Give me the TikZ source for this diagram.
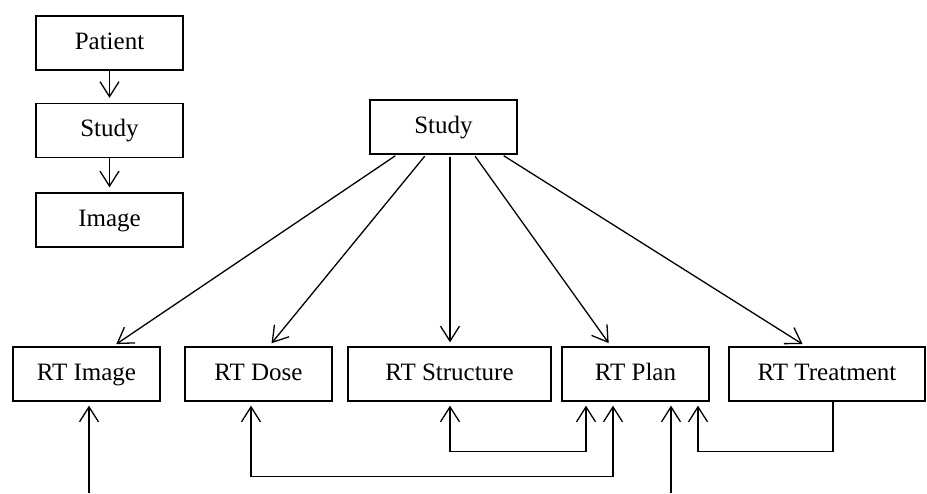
\documentclass[tikz,border=0pt]{standalone}
\usepackage{fontspec}
\setmainfont{Liberation Serif}
\usetikzlibrary{arrows.meta,calc}
\tikzset{
  entity/.style={draw, line width=0.65pt, minimum height=27pt, minimum width=73.5pt,
    inner sep=0pt, text height=8.5pt, text depth=2.5pt, font=\fontsize{12.5}{14}\selectfont},
  link/.style={line width=0.65pt, -{Straight Barb[length=7.5pt,width=9.5pt,line width=0.65pt]}},
  twoway/.style={line width=0.65pt, {Straight Barb[length=7.5pt,width=9.5pt,line width=0.65pt]}-{Straight Barb[length=7.5pt,width=9.5pt,line width=0.65pt]}}
}
\begin{document}
\begin{tikzpicture}[x=0.5pt,y=-0.5pt]
\useasboundingbox (0,0) rectangle (927,493);
% legend hierarchy
\node[entity] (patient) at (109.5,43) {Patient};
\node[entity] (study1) at (109.5,130.5) {Study};
\node[entity] (image) at (109.5,220) {Image};
\draw[link, shorten >=2.5pt] (patient) -- (study1);
\draw[link, shorten >=2.5pt] (study1) -- (image);
% study and RT objects
\node[entity] (study) at (443.5,127) {Study};
\node[entity] (rtimage) at (86.5,374) {RT Image};
\node[entity] (rtdose) at (258.5,374) {RT Dose};
\node[entity, minimum width=101.5pt] (rtstruct) at (449.5,374) {RT Structure};
\node[entity] (rtplan) at (635.5,374) {RT Plan};
\node[entity, minimum width=98pt] (rttreat) at (827,374) {RT Treatment};
\draw[link, shorten <=1pt, shorten >=2pt] ($(study.south)+(-46.5,0)$) -- ($(rtimage.north)+(26.5,0)$);
\draw[link, shorten <=1pt, shorten >=2pt] ($(study.south)+(-17.5,0)$) -- ($(rtdose.north)+(10.5,0)$);
\draw[link, shorten <=1pt, shorten >=2pt] ($(study.south)+(6.5,0)$) -- ($(rtstruct.north)+(0.5,0)$);
\draw[link, shorten <=1pt, shorten >=2pt] ($(study.south)+(30.5,0)$) -- ($(rtplan.north)+(-24.5,0)$);
\draw[link, shorten <=1pt, shorten >=2pt] ($(study.south)+(58.5,0)$) -- ($(rttreat.north)+(-21,0)$);
% references between RT objects
\coordinate (imgin) at (89,493);
\coordinate (planin) at (671,493);
\draw[link, shorten >=2pt] (imgin) -- (imgin |- rtimage.south);
\draw[link, shorten >=2pt] (planin) -- (planin |- rtplan.south);
\draw[twoway, shorten <=2pt, shorten >=2pt] ($(rtdose.south)+(-7.5,0)$) -- ++(0,75) -| ($(rtplan.south)+(-22.5,0)$);
\draw[twoway, shorten <=2pt, shorten >=2pt] ($(rtstruct.south)+(0.5,0)$) -- ++(0,50) -| ($(rtplan.south)+(-49.5,0)$);
\draw[link, shorten >=2pt] ($(rttreat.south)+(6,0)$) -- ++(0,50) -| ($(rtplan.south)+(62.5,0)$);
\end{tikzpicture}
\end{document}
